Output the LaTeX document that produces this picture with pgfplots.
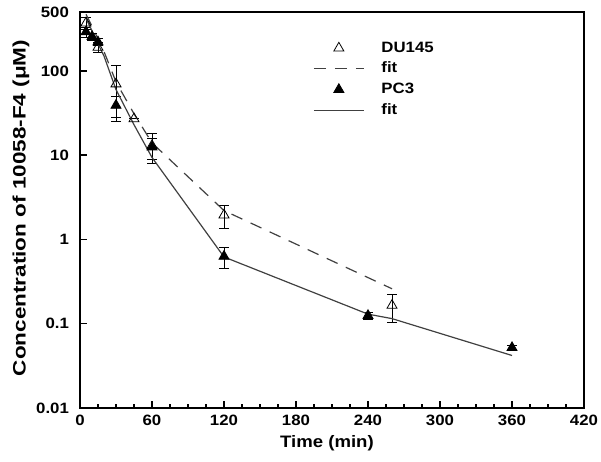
\documentclass[border=0pt]{standalone}
\usepackage{pgfplots}
\pgfplotsset{compat=1.18}
\usepackage{fontspec}
\setmainfont{Liberation Sans}
\newfontfamily\widefont[FakeStretch=1.12]{Liberation Sans}
\newfontfamily\ylfont[FakeStretch=1.25]{Liberation Sans}
\newcommand{\tickfont}{\widefont\fontsize{7.5}{9}\selectfont\bfseries}
\newcommand{\legfont}{\widefont\fontsize{7.5}{9}\selectfont\bfseries}

\begin{document}
\begin{tikzpicture}
\begin{axis}[
  name=ax,
  scale only axis,
  width=252pt, height=198pt,
  ymode=log,
  xmin=0, xmax=420,
  ymin=0.01, ymax=500,
  xtick={0,60,...,420},
  minor x tick num=3,
  ytick={0.01,0.1,1,10,100,500},
  yticklabels={0.01,0.1,1,10,100,500},
  log ticks with fixed point,
  /pgf/number format/assume math mode=true,
  tick pos=left,
  tick align=inside,
  major tick length=3.5pt,
  minor tick length=2pt,
  axis line style={line width=1pt},
  tick style={line width=0.7pt, black},
  ticklabel style={font=\tickfont},
  yticklabel style={xshift=-2pt},
  xlabel={Time (min)},
  ylabel={Concentration of 10058-F4 (μM)},
  xlabel style={font=\widefont\fontsize{8.3}{10}\selectfont\bfseries,
    at={(axis description cs:0.49,-0.088)}, anchor=center},
  ylabel style={font=\ylfont\fontsize{9}{10}\selectfont\bfseries,
    at={(axis description cs:-0.117,0.505)}, anchor=center},
  legend style={draw=none, fill=none, inner sep=0pt,
    at={(axis description cs:0.462,0.93)}, anchor=north west,
    font=\legfont, row sep=2.35pt, column sep=8.5pt, legend cell align=left,
    nodes={inner sep=0pt, text height=6pt, text depth=2pt}},
  legend image code/.code={%
    \draw[mark repeat=2, mark phase=2, #1] plot coordinates {(0pt,0pt) (12.5pt,0pt) (25pt,0pt)};},
]
% DU145 data
\addplot[only marks, mark=triangle, mark size=2.9pt, mark options={black, fill=white},
  error bars/.cd, y dir=both, y explicit,
  error mark options={rotate=90, mark size=2.5pt, black}]
  coordinates {
  (5,370) +- (0,60)
  (15,190) +- (0,25)
  (30,70) +- (0,45)
  (45,27) +- (0,0)
  (60,13) +- (0,5)
  (120,1.95) +- (0,0.6)
  (260,0.165) +- (0,0.06)
  };
% DU145 fit
\addplot[black!75, line width=0.6pt, dash pattern=on 6pt off 4.5pt, mark=none]
  coordinates {
  (5,470) (10,340) (15,240) (20,170) (30,74) (45,31) (60,14) (120,2.2) (260,0.26)
  };
% PC3 data
\addplot[only marks, mark=triangle*, mark size=2.9pt, mark options={black, fill=black},
  error bars/.cd, y dir=both, y explicit,
  error mark options={rotate=90, mark size=2.5pt, black}]
  coordinates {
  (5,290) +- (0,40)
  (10,255) +- (0,25)
  (15,220) +- (0,20)
  (30,39) +- (0,11)
  (60,12.5) +- (0,3.5)
  (120,0.63) +- (0,0.18)
  (240,0.125) +- (0,0.012)
  (360,0.052) +- (0,0.003)
  };
% PC3 fit
\addplot[black!75, line width=0.6pt, mark=none]
  coordinates {
  (5,420) (10,300) (15,210) (20,150) (30,60) (45,23) (60,9.4) (120,0.62) (240,0.13) (260,0.115) (360,0.042)
  };
\legend{DU145, fit, PC3, fit}
\end{axis}
\pgfresetboundingbox
\path ([shift={(-40pt,-26.5pt)}]ax.south west) rectangle ([shift={(8.5pt,6pt)}]ax.north east);
\end{tikzpicture}
\end{document}
